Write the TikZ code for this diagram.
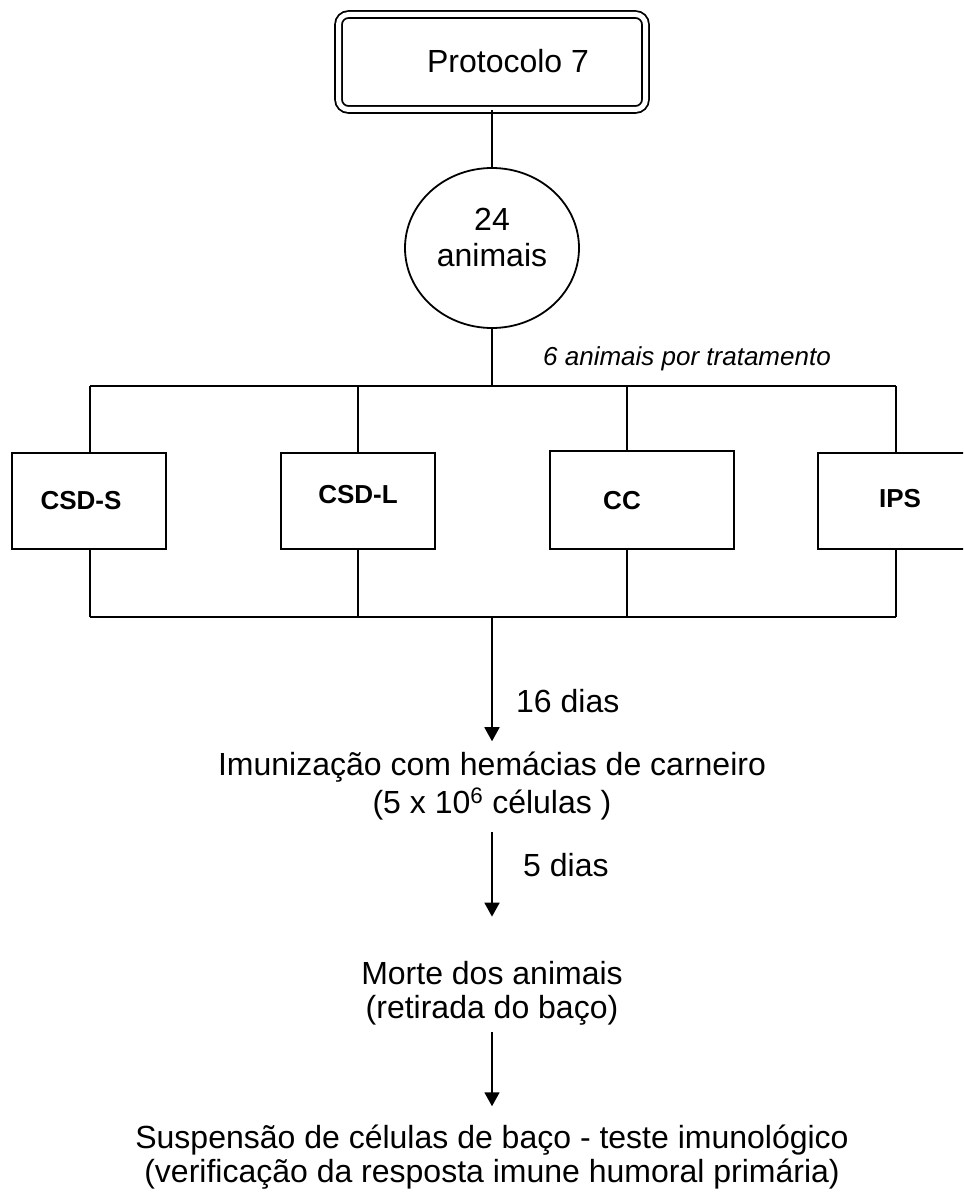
\documentclass[tikz,border=0pt]{standalone}
\usepackage{fontspec}
\setmainfont{Liberation Sans}
\usetikzlibrary{arrows.meta,shapes.geometric,calc}
\begin{document}
\begin{tikzpicture}[x=1pt,y=-1pt,
  wire/.style={line width=1.8pt},
  arr/.style={wire,-{Triangle[length=14pt,width=15pt]}},
  group/.style={draw,line width=1.8pt,minimum width=154pt,minimum height=96pt,inner sep=0pt},
  lbl/.style={font=\fontsize{26}{28}\selectfont\bfseries,inner sep=0pt,anchor=base},
  body/.style={font=\fontsize{32}{34}\selectfont,inner sep=0pt,align=center},
]
\useasboundingbox (0,0) rectangle (963,1193);
\clip (0,0) rectangle (963,1193);

% title box with double rounded border
\node[draw,double,double distance=5pt,line width=1.8pt,rounded corners=10pt,
      minimum width=307pt,minimum height=95pt,inner sep=0pt] (proto) at (492,62) {};
\node[body,anchor=base] (prototxt) at (508,73) {Protocolo 7};

% group of animals (multi-line text sits on the baseline of its last line)
\node[draw,ellipse,line width=1.8pt,minimum width=174pt,minimum height=160pt,inner sep=0pt] (herd) at (492,248) {};
\node[body,anchor=base] (herdtxt) at (492,266) {24\\[2pt]animais};

\draw[wire] (proto.south) -- (herd.north);
\coordinate (split) at (492,386);
\draw[wire] (herd.south) -- (split);
\node[font=\fontsize{26}{30}\selectfont\itshape,inner sep=0pt,anchor=base west] (pertreat) at (543,365) {6 animais por tratamento};

% distribution bus
\coordinate (tA) at (90,386);
\coordinate (tB) at (358,386);
\coordinate (tC) at (627,386);
\coordinate (tD) at (896,386);
\draw[wire] (tA) -- (tD);

% treatment boxes
\node[group] (bS) at (89,501) {};
\node[group] (bL) at (358,501) {};
\node[group,minimum width=184pt,minimum height=98pt] (bC) at (642,500) {};
\node[group] (bI) at (895,501) {};

\node[lbl] (tS) at (81,509) {CSD-S};
\node[lbl] (tL) at (358,503) {CSD-L};
\node[lbl] (tCC) at (622,509) {CC};
\node[lbl] (tI) at (900,507) {IPS};

\draw[wire] (tA) -- (tA |- bS.north);
\draw[wire] (tB) -- (tB |- bL.north);
\draw[wire] (tC) -- (tC |- bC.north);
\draw[wire] (tD) -- (tD |- bI.north);

% collecting bus
\coordinate (uA) at (90,617);
\coordinate (uB) at (358,617);
\coordinate (uC) at (627,617);
\coordinate (uD) at (896,617);
\coordinate (join) at (492,617);
\draw[wire] (uA) -- (uD);
\draw[wire] (uA |- bS.south) -- (uA);
\draw[wire] (uB |- bL.south) -- (uB);
\draw[wire] (uC |- bC.south) -- (uC);
\draw[wire] (uD |- bI.south) -- (uD);

% timeline
\node[body,anchor=base] (imun) at (492,813) {Imunização com hemácias de carneiro\\[4pt](5 x 10\textsuperscript{6} células )};
\node[body,anchor=base] (morte) at (492,1018) {Morte dos animais\\(retirada do baço)};
\node[body,anchor=base] (susp) at (492,1182) {Suspensão de células de baço - teste imunológico\\(verificação da resposta imune humoral primária)};

\draw[arr,shorten >=10pt] (join) -- (join |- imun.north);
\node[body,anchor=base west] (d16) at (516,712) {16 dias};
\draw[arr,shorten <=12pt,shorten >=44pt] (imun.south) -- (morte.north);
\node[body,anchor=base west] (d5) at (523,876) {5 dias};
\draw[arr,shorten <=7pt,shorten >=18pt] (morte.south) -- (susp.north);
\end{tikzpicture}
\end{document}
